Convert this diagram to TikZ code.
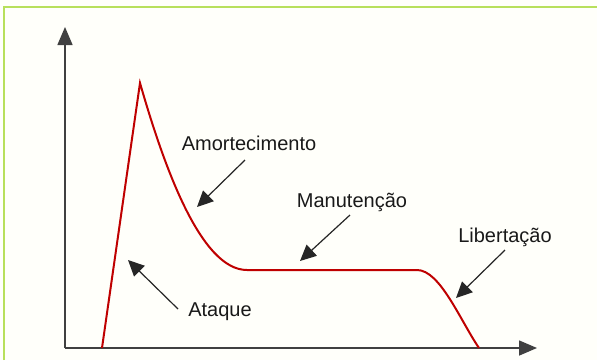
\documentclass[tikz,border=0pt]{standalone}
\usepackage{fontspec}
\setmainfont{Liberation Sans}
\usetikzlibrary{arrows.meta, positioning, calc}

\begin{document}
\begin{tikzpicture}[
    x=1pt, y=-1pt,
    label/.style={
        font=\fontsize{20}{24}\selectfont,
        text=black!90,
        inner sep=0pt
    },
    axis/.style={
        -{Triangle[length=18pt, width=15pt]},
        line width=1.6pt,
        black!75
    },
    pointer/.style={
        -{Triangle[length=16pt, width=15pt]},
        line width=1.2pt,
        black!85
    },
    envelope/.style={
        line width=2pt,
        red!75!black,
        line join=miter
    }
]

% Page and scan border
\useasboundingbox (0,0) rectangle (597,360);
\fill[white!98!yellow] (0,0) rectangle (597,360);
\draw[line width=1.5pt, yellow!60!green!70] (4,360) -- (4,7) -- (597,7);

% Axes
\coordinate (origin) at (65,348);
\coordinate (ytop) at (65,27);
\coordinate (xend) at (537,348);
\draw[axis] (origin) -- (ytop);
\draw[axis] (origin) -- (xend);

% Envelope
\coordinate (start) at (102,348);
\coordinate (peak) at (140,83);
\coordinate (sustain) at (247,270);
\coordinate (fade) at (417,270);
\coordinate (stop) at (479,348);
\draw[envelope] (start) -- (peak)
    .. controls (163,163) and (200,270) .. (sustain)
    -- (fade)
    .. controls (440,270) and (460,320) .. (stop);

% Labels
\node[label] (amort) at (249,143) {Amortecimento};
\node[label] (manut) at (352,202) {Manutenção};
\node[label] (liber) at (505,237) {Libertação};
\node[label] (ataque) at (220,312) {Ataque};

% Pointers
\coordinate (amortfrom) at (245,160);
\coordinate (amortto) at (197,207);
\coordinate (manutfrom) at (350,215);
\coordinate (manutto) at (300,261);
\coordinate (liberfrom) at (505,250);
\coordinate (liberto) at (456,298);
\coordinate (ataquefrom) at (178,309);
\coordinate (ataqueto) at (128,260);
\draw[pointer] (amortfrom) -- (amortto);
\draw[pointer] (manutfrom) -- (manutto);
\draw[pointer] (liberfrom) -- (liberto);
\draw[pointer] (ataquefrom) -- (ataqueto);

\end{tikzpicture}
\end{document}
